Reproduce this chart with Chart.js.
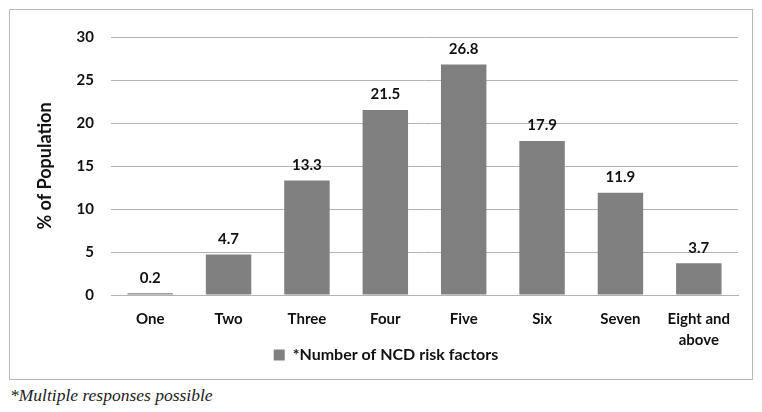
<!DOCTYPE html>
<html>
<head>
<meta charset="utf-8">
<script src="https://cdn.jsdelivr.net/npm/chart.js@4"></script>
<style>
  body { margin: 0; background: #fff; width: 762px; height: 412px; position: relative; }
  #box { position: absolute; left: 9px; top: 9px; width: 742px; height: 369px; border: 1px solid #b8b8b8; }
  #note { position: absolute; left: 10px; top: 385px; font: italic 17.5px "Liberation Serif", serif; color: #222; }
</style>
</head>
<body>
<div id="box"><canvas id="chart" width="742" height="369"></canvas></div>
<div id="note">*Multiple responses possible</div>
<script>
const categories = ["One", "Two", "Three", "Four", "Five", "Six", "Seven", ["Eight and", "above"]];
const values = [0.2, 4.7, 13.3, 21.5, 26.8, 17.9, 11.9, 3.7];
const seriesName = "*Number of NCD risk factors";
const yTicks = [0, 5, 10, 15, 20, 25, 30];

const FONT = "Lato, 'Open Sans', sans-serif";

// draws the value above each bar
const valueLabels = {
  id: "valueLabels",
  afterDatasetsDraw(chart) {
    const ctx = chart.ctx;
    const meta = chart.getDatasetMeta(0);
    ctx.save();
    ctx.font = "bold 15px " + FONT;
    ctx.fillStyle = "#111";
    ctx.textAlign = "center";
    ctx.textBaseline = "bottom";
    meta.data.forEach((bar, i) => {
      ctx.fillText(values[i].toFixed(1), bar.x, bar.y - 8);
    });
    ctx.restore();
  }
};

new Chart(document.getElementById("chart"), {
  type: "bar",
  data: {
    labels: categories,
    datasets: [{
      label: seriesName,
      data: values,
      backgroundColor: "#808080",
      barPercentage: 0.58,
      categoryPercentage: 1
    }]
  },
  options: {
    responsive: false,
    animation: false,
    layout: { padding: { left: 24, right: 14, top: 27, bottom: 6 } },
    scales: {
      y: {
        min: 0,
        max: 30,
        afterBuildTicks(scale) { scale.ticks = yTicks.map(v => ({ value: v })); },
        afterFit(scale) { scale.width = 77; },
        border: { display: false },
        grid: { color: "#b3b3b3", drawTicks: false },
        ticks: { padding: 17, color: "#111", font: { family: FONT, size: 15, weight: "bold" } },
        title: {
          display: true,
          text: "% of Population",
          color: "#111",
          padding: { top: 0, bottom: 0 },
          font: { family: FONT, size: 18, weight: "bold" }
        }
      },
      x: {
        afterFit(scale) { scale.height = 52; },
        border: { color: "#b3b3b3" },
        grid: { display: false, drawTicks: false },
        ticks: { padding: 14, color: "#111", maxRotation: 0, font: { family: FONT, size: 15, weight: "bold", lineHeight: 1.4 } }
      }
    },
    plugins: {
      legend: {
        position: "bottom",
        labels: { boxWidth: 11, boxHeight: 11, padding: 0, color: "#111", font: { family: FONT, size: 16, weight: "bold" } }
      },
      tooltip: { enabled: false }
    }
  },
  plugins: [valueLabels]
});
</script>
</body>
</html>
